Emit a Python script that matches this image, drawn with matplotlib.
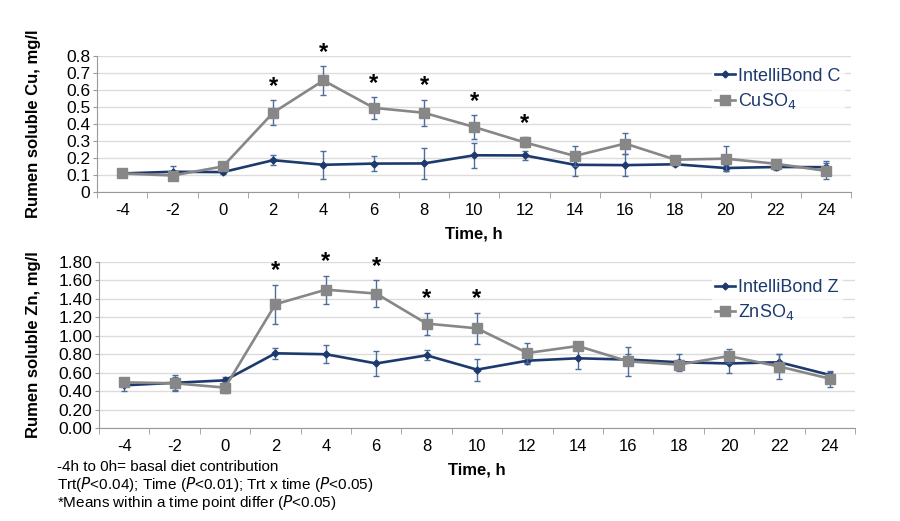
import numpy as np
import matplotlib
matplotlib.use("Agg")
import matplotlib.pyplot as plt

plt.rcParams["font.family"] = ["Liberation Sans", "DejaVu Sans"]
plt.rcParams["axes.unicode_minus"] = False

# sampling times (h)
hours = [-4, -2, 0, 2, 4, 6, 8, 10, 12, 14, 16, 18, 20, 22, 24]

# copper
cu_intellibond = [0.109, 0.119, 0.117, 0.187, 0.160, 0.167, 0.168, 0.216, 0.215, 0.160, 0.158, 0.163, 0.141, 0.147, 0.146]
cu_intellibond_err = [0.01, 0.033, 0.01, 0.03, 0.082, 0.045, 0.09, 0.073, 0.025, 0.066, 0.065, 0.012, 0.02, 0.02, 0.035]
cu_sulfate = [0.109, 0.097, 0.150, 0.467, 0.656, 0.495, 0.466, 0.382, 0.292, 0.212, 0.285, 0.190, 0.196, 0.166, 0.124]
cu_sulfate_err = [0.01, 0.01, 0.023, 0.075, 0.083, 0.066, 0.078, 0.07, 0.03, 0.06, 0.062, 0.02, 0.075, 0.012, 0.048]
cu_signif = [2, 4, 6, 8, 10, 12]

# zinc
zn_intellibond = [0.463, 0.490, 0.517, 0.810, 0.800, 0.700, 0.788, 0.633, 0.730, 0.756, 0.742, 0.713, 0.700, 0.713, 0.575]
zn_intellibond_err = [0.06, 0.09, 0.04, 0.06, 0.10, 0.135, 0.055, 0.12, 0.04, 0.115, 0.06, 0.09, 0.10, 0.085, 0.03]
zn_sulfate = [0.495, 0.485, 0.438, 1.342, 1.500, 1.458, 1.132, 1.081, 0.813, 0.889, 0.723, 0.687, 0.780, 0.666, 0.535]
zn_sulfate_err = [0.04, 0.07, 0.06, 0.21, 0.15, 0.145, 0.12, 0.17, 0.11, 0.03, 0.155, 0.05, 0.08, 0.14, 0.085]
zn_signif = [2, 4, 6, 8, 10]

notes = ["-4h to 0h= basal diet contribution",
         r"Trt($\it{P}$<0.04); Time ($\it{P}$<0.01); Trt x time ($\it{P}$<0.05)",
         r"*Means within a time point differ ($\it{P}$<0.05)"]

navy = "#1d3a6f"
grey = "#878787"
err_col = "#4e6d9c"


def draw_panel(ax, blue, blue_err, gray, gray_err, signif, labels, ymax, ystep, fmt, ylabel, leg_y, leg_x):
    c1 = ax.errorbar(hours, blue, yerr=blue_err, color=navy, ecolor=err_col, elinewidth=1,
                     capsize=2, capthick=1, lw=1.9, marker="D", ms=3.5, zorder=3)
    c2 = ax.errorbar(hours, gray, yerr=gray_err, color=grey, ecolor=err_col, elinewidth=1,
                     capsize=2, capthick=1, lw=1.9, marker="s", ms=6.5, zorder=4)
    for h in signif:
        i = hours.index(h)
        ax.text(h, gray[i] + gray_err[i] + ymax * 0.015, "*", ha="center", va="bottom",
                fontsize=17, fontweight="bold")
    ax.set_xlim(-5, 25)
    ax.set_ylim(0, ymax)
    yt = np.arange(0, ymax + ystep / 2, ystep)
    ax.set_yticks(yt)
    ax.set_yticklabels([fmt.format(v) for v in yt])
    ax.set_xticks(hours)
    ax.set_xticks(np.arange(-5, 26, 2), minor=True)
    ax.tick_params(axis="x", which="major", length=0, pad=8, labelsize=12)
    ax.tick_params(axis="x", which="minor", length=4, color="#999999", direction="out")
    ax.tick_params(axis="y", length=3, color="#999999", pad=2, labelsize=12.5)
    ax.grid(axis="y", color="#dcdcdc", lw=1)
    ax.set_axisbelow(True)
    for s in ["top", "right"]:
        ax.spines[s].set_visible(False)
    for s in ["left", "bottom"]:
        ax.spines[s].set_color("#999999")
    ax.set_xlabel("Time, h", fontsize=12, fontweight="bold", labelpad=6)
    ax.set_ylabel(ylabel, fontsize=12, fontweight="bold")
    leg = ax.legend([c1[0], c2[0]], labels, loc="upper right", bbox_to_anchor=(leg_x, leg_y),
                    frameon=True, fontsize=13, handlelength=1.1, handletextpad=0.15,
                    borderpad=0.2, borderaxespad=0, labelspacing=0.35)
    leg.get_frame().set_facecolor("white")
    leg.get_frame().set_edgecolor("white")
    leg.get_frame().set_boxstyle("square", pad=0)
    for t in leg.get_texts():
        t.set_color(navy)


fig = plt.figure(figsize=(9, 5.21), dpi=100)
ax1 = fig.add_axes([0.108, 0.6315, 0.838, 0.261])
ax2 = fig.add_axes([0.110, 0.1785, 0.840, 0.3186])

draw_panel(ax1, cu_intellibond, cu_intellibond_err, cu_sulfate, cu_sulfate_err, cu_signif,
           ["IntelliBond C", "CuSO$_4$"], 0.8, 0.1, "{:g}", "Rumen soluble Cu, mg/l", 0.94, 0.99)
draw_panel(ax2, zn_intellibond, zn_intellibond_err, zn_sulfate, zn_sulfate_err, zn_signif,
           ["IntelliBond Z", "ZnSO$_4$"], 1.8, 0.2, "{:.2f}", "Rumen soluble Zn, mg/l", 0.92, 0.983)
ax1.yaxis.set_label_coords(-0.074, 0.5)
ax2.yaxis.set_label_coords(-0.077, 0.5)

for k, line in enumerate(notes):
    fig.text(0.063, 1 - (467 + 18 * k) / 521, line, fontsize=11, va="center")

fig.savefig("out.png", dpi=100)
